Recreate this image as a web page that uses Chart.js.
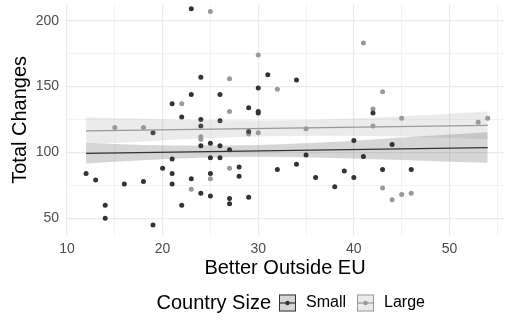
<!DOCTYPE html>
<html>
<head>
<meta charset="utf-8">
<script src="https://cdn.jsdelivr.net/npm/chart.js@4/dist/chart.umd.min.js"></script>
<style>
  html, body { margin: 0; padding: 0; background: #ffffff; }
  #wrap { width: 508px; height: 322px; }
</style>
</head>
<body>
<div id="wrap"><canvas id="chart" width="508" height="322"></canvas></div>
<script>
// Countries: how many changes vs. how many people feel better off outside the EU
const smallX = [21, 23, 31, 24, 30, 23, 26, 29, 30, 30, 22, 24, 26, 34, 42, 44, 46, 19, 21, 12,
                13, 20, 21, 16, 18, 21, 14, 14, 19, 24, 29, 24, 25, 26, 27, 25, 26, 28, 32, 25,
                28, 23, 24, 25, 27, 27, 29, 22, 40, 35, 41, 34, 36, 39, 40, 43, 38];
const smallY = [137, 209, 159, 157, 149, 144, 144, 134, 131, 130, 127, 125, 124, 155, 130, 106, 87, 115, 95, 84,
                79, 88, 84, 76, 78, 76, 60, 50, 45, 120, 116, 105, 107, 105, 102, 96, 96, 89, 87, 84,
                82, 80, 69, 67, 65, 61, 66, 60, 109, 98, 97, 91, 81, 86, 81, 87, 74];

const largeX = [25, 30, 27, 32, 22, 27, 41, 43, 42, 45, 53, 54, 44, 45, 46, 15, 18, 24, 24, 29,
                30, 27, 25, 23, 35, 42, 43];
const largeY = [207, 174, 156, 148, 137, 131, 183, 146, 133, 126, 123, 126, 64, 68, 69, 119, 119, 112, 110, 114,
                115, 88, 80, 72, 118, 120, 73];

// Linear fits and their confidence bands
const fitX = [12, 54];
const smallFit = [99.3, 103.7];
const largeFit = [116.4, 120.6];

const bandX = [12, 18, 24, 30, 36, 42, 48, 54];
const smallLower = [91.7, 94.1, 96.0, 96.7, 96.2, 94.9, 93.6, 92.1];
const smallUpper = [106.9, 105.7, 105.2, 105.7, 107.4, 109.9, 112.6, 115.3];
const largeLower = [106.0, 108.4, 110.6, 112.1, 112.7, 112.4, 111.4, 110.1];
const largeUpper = [126.8, 125.6, 124.6, 124.3, 124.9, 126.4, 128.6, 131.1];

const xTicks = [10, 15, 20, 25, 30, 35, 40, 45, 50, 55];
const yTicks = [50, 75, 100, 125, 150, 175, 200];
const xLabelled = [10, 20, 30, 40, 50];
const yLabelled = [50, 100, 150, 200];

const groups = ['Small', 'Large'];

const FONT = "'Liberation Sans', Arial, Helvetica, sans-serif";
const DARK = '#333333';
const LIGHT = '#999999';
const DARK_FILL = 'rgba(51,51,51,0.2)';
const LIGHT_FILL = 'rgba(153,153,153,0.2)';

const pts = (xs, ys) => xs.map((x, i) => ({ x: x, y: ys[i] }));

const datasets = [
  // 0,1: Small band (upper fills down to lower)
  { type: 'line', data: pts(bandX, smallUpper), fill: 1, backgroundColor: DARK_FILL,
    borderWidth: 0, pointRadius: 0, cubicInterpolationMode: 'monotone', order: 3 },
  { type: 'line', data: pts(bandX, smallLower), fill: false, borderWidth: 0, pointRadius: 0,
    cubicInterpolationMode: 'monotone', order: 3 },
  // 2,3: Large band
  { type: 'line', data: pts(bandX, largeUpper), fill: 3, backgroundColor: LIGHT_FILL,
    borderWidth: 0, pointRadius: 0, cubicInterpolationMode: 'monotone', order: 3 },
  { type: 'line', data: pts(bandX, largeLower), fill: false, borderWidth: 0, pointRadius: 0,
    cubicInterpolationMode: 'monotone', order: 3 },
  // 4,5: fitted lines
  { type: 'line', data: pts(fitX, smallFit), borderColor: DARK, borderWidth: 1.2,
    pointRadius: 0, fill: false, order: 1 },
  { type: 'line', data: pts(fitX, largeFit), borderColor: LIGHT, borderWidth: 1.2,
    pointRadius: 0, fill: false, order: 1 },
  // 6,7: observations
  { type: 'scatter', label: groups[0], data: pts(smallX, smallY), backgroundColor: DARK,
    borderWidth: 0, pointRadius: 2.5, order: 4 },
  { type: 'scatter', label: groups[1], data: pts(largeX, largeY), backgroundColor: LIGHT,
    borderWidth: 0, pointRadius: 2.5, order: 4 }
];

// Legend drawn underneath the plot: title, then keys with band fill, line and point
const bottomLegend = {
  id: 'bottomLegend',
  afterDraw(chart) {
    const ctx = chart.ctx;
    ctx.save();
    const cy = 303;
    ctx.textBaseline = 'middle';
    ctx.fillStyle = '#000000';
    ctx.font = '20px ' + FONT;
    ctx.textAlign = 'right';
    ctx.fillText('Country Size', 271, cy);
    ctx.textAlign = 'left';
    const keys = [
      { x: 279, label: groups[0], fill: '#d6d6d6', color: DARK, tx: 306 },
      { x: 357, label: groups[1], fill: '#ebebeb', color: LIGHT, tx: 384 }
    ];
    keys.forEach(k => {
      const s = 17;
      ctx.fillStyle = k.fill;
      ctx.fillRect(k.x, cy - s / 2, s, s);
      ctx.strokeStyle = k.color;
      ctx.lineWidth = 1;
      ctx.strokeRect(k.x + 0.5, cy - s / 2 + 0.5, s - 1, s - 1);
      ctx.beginPath();
      ctx.moveTo(k.x, cy);
      ctx.lineTo(k.x + s, cy);
      ctx.lineWidth = 1.2;
      ctx.stroke();
      ctx.beginPath();
      ctx.arc(k.x + s / 2, cy, 2.2, 0, Math.PI * 2);
      ctx.fillStyle = k.color;
      ctx.fill();
      ctx.fillStyle = '#000000';
      ctx.font = '16px ' + FONT;
      ctx.fillText(k.label, k.tx, cy);
    });
    ctx.restore();
  }
};

const gridColor = '#ebebeb';

new Chart(document.getElementById('chart'), {
  type: 'scatter',
  data: { datasets: datasets },
  plugins: [bottomLegend],
  options: {
    responsive: false,
    animation: false,
    devicePixelRatio: 1,
    layout: { padding: { left: 0, right: 0, top: 0, bottom: 40 } },
    plugins: { legend: { display: false }, tooltip: { enabled: false } },
    scales: {
      x: {
        type: 'linear',
        min: 9.9,
        max: 55.7,
        afterBuildTicks: s => { s.ticks = xTicks.map(v => ({ value: v })); },
        afterFit: s => { s.height = 46.3; s.paddingLeft = 0; s.paddingRight = 0; },
        border: { display: false },
        grid: {
          drawTicks: false,
          color: gridColor,
          lineWidth: c => (c.tick && xLabelled.includes(c.tick.value)) ? 1.2 : 0.6
        },
        ticks: {
          autoSkip: false,
          maxRotation: 0,
          padding: 5,
          color: '#4d4d4d',
          font: { family: FONT, size: 14 },
          callback: v => xLabelled.includes(v) ? String(v) : ''
        },
        title: {
          display: true,
          text: 'Better Outside EU',
          color: '#000000',
          font: { family: FONT, size: 20 },
          padding: { top: 0, bottom: 2 }
        }
      },
      y: {
        type: 'linear',
        min: 36.8,
        max: 212.7,
        afterBuildTicks: s => { s.ticks = yTicks.map(v => ({ value: v })); },
        afterFit: s => { s.width = 66; s.paddingTop = 0; s.paddingBottom = 0; },
        border: { display: false },
        grid: {
          drawTicks: false,
          color: gridColor,
          lineWidth: c => (c.tick && yLabelled.includes(c.tick.value)) ? 1.2 : 0.6
        },
        ticks: {
          autoSkip: false,
          padding: 7,
          color: '#4d4d4d',
          font: { family: FONT, size: 14 },
          callback: v => yLabelled.includes(v) ? String(v) : ''
        },
        title: {
          display: true,
          text: 'Total Changes',
          color: '#000000',
          font: { family: FONT, size: 20 },
          padding: { top: 8, bottom: 0 }
        }
      }
    }
  }
});
</script>
</body>
</html>
